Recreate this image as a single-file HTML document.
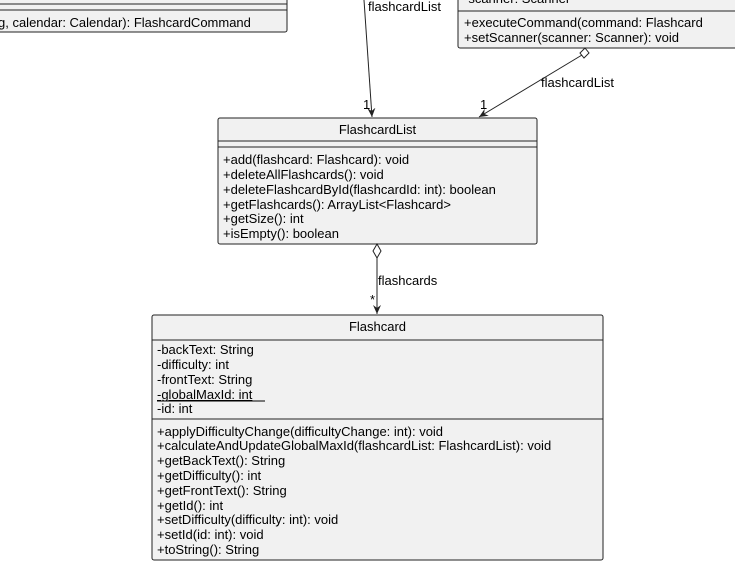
<!DOCTYPE html>
<html><head><style>
html,body{margin:0;padding:0;background:#fff;width:735px;height:578px;overflow:hidden}
text{font-family:"Liberation Sans",sans-serif;font-size:13px;fill:#000}
</style></head><body>
<svg width="735" height="578" xmlns="http://www.w3.org/2000/svg">
<defs><marker id="ar" markerWidth="10" markerHeight="10" refX="9" refY="4" orient="auto" markerUnits="userSpaceOnUse"><path d="M0,0 L9,4 L0,8 L3,4 Z" fill="#222"/></marker></defs>
<g stroke="#222" stroke-width="1" fill="#f1f1f1">
<rect x="-10" y="-10" width="297" height="42" rx="2"/>
<line x1="-10" y1="4" x2="287" y2="4"/><line x1="-10" y1="10" x2="287" y2="10"/>
<rect x="458" y="-10" width="290" height="58" rx="2"/>
<line x1="458" y1="11" x2="748" y2="11"/>
<rect x="218" y="118" width="319" height="126" rx="2"/>
<line x1="218" y1="141" x2="537" y2="141"/><line x1="218" y1="147" x2="537" y2="147"/>
<rect x="152" y="315" width="451" height="245" rx="2"/>
<line x1="152" y1="340" x2="603" y2="340"/><line x1="152" y1="419" x2="603" y2="419"/>
</g>
<g stroke="#222" fill="none">
<line x1="364" y1="0" x2="372" y2="117" marker-end="url(#ar)"/>
<line x1="582" y1="55" x2="479" y2="117" marker-end="url(#ar)"/>
<path d="M585,48 L589,53 L584,58 L580,53 Z" fill="#fff"/>
<line x1="377" y1="258" x2="377" y2="314" marker-end="url(#ar)"/>
<path d="M377,244 L381,251 L377,258 L373,251 Z" fill="#fff"/>
</g>
<text x="-2" y="27">g, calendar: Calendar): FlashcardCommand</text>
<text x="464" y="3">-scanner: Scanner</text>
<text x="464" y="27">+executeCommand(command: Flashcard</text>
<text x="464" y="42">+setScanner(scanner: Scanner): void</text>
<text x="368" y="11">flashcardList</text>
<text x="363" y="109">1</text>
<text x="541" y="87">flashcardList</text>
<text x="480" y="109">1</text>
<text x="378" y="285">flashcards</text>
<text x="370" y="304">*</text>
<text x="377.5" y="134" text-anchor="middle">FlashcardList</text>
<text x="223" y="164">+add(flashcard: Flashcard): void</text>
<text x="223" y="179">+deleteAllFlashcards(): void</text>
<text x="223" y="194">+deleteFlashcardById(flashcardId: int): boolean</text>
<text x="223" y="209">+getFlashcards(): ArrayList&lt;Flashcard&gt;</text>
<text x="223" y="223">+getSize(): int</text>
<text x="223" y="238">+isEmpty(): boolean</text>
<text x="377.5" y="331" text-anchor="middle">Flashcard</text>
<text x="157" y="354">-backText: String</text>
<text x="157" y="369">-difficulty: int</text>
<text x="157" y="384">-frontText: String</text>
<text x="157" y="399" text-decoration="underline">-globalMaxId: int</text>
<line x1="157" y1="401" x2="265" y2="401" stroke="#000"/>
<text x="157" y="413">-id: int</text>
<text x="157" y="436">+applyDifficultyChange(difficultyChange: int): void</text>
<text x="157" y="450">+calculateAndUpdateGlobalMaxId(flashcardList: FlashcardList): void</text>
<text x="157" y="465">+getBackText(): String</text>
<text x="157" y="480">+getDifficulty(): int</text>
<text x="157" y="495">+getFrontText(): String</text>
<text x="157" y="510">+getId(): int</text>
<text x="157" y="524">+setDifficulty(difficulty: int): void</text>
<text x="157" y="539">+setId(id: int): void</text>
<text x="157" y="554">+toString(): String</text>
</svg>
</body></html>
